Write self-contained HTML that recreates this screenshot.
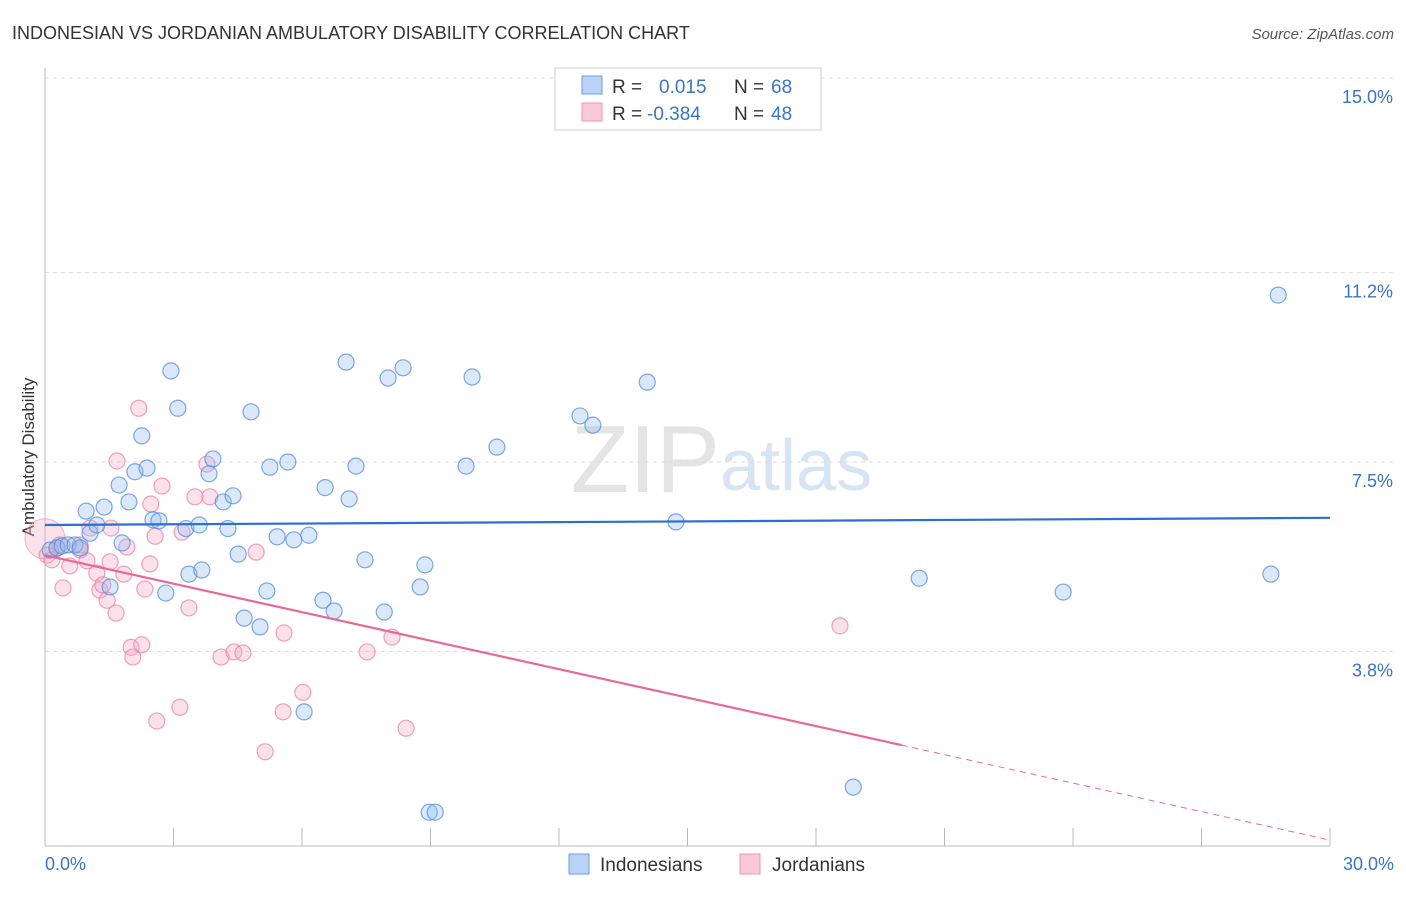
<!DOCTYPE html>
<html><head><meta charset="utf-8"><style>
body{margin:0;background:#fff;font-family:"Liberation Sans",sans-serif;}
svg text{font-family:"Liberation Sans",sans-serif;}
</style></head><body>
<svg id="chart" width="1406" height="892" xmlns="http://www.w3.org/2000/svg">
<text x="12" y="39" font-size="18" fill="#333">INDONESIAN VS JORDANIAN AMBULATORY DISABILITY CORRELATION CHART</text>
<text x="1394" y="39" font-size="15" fill="#555" text-anchor="end" font-style="italic">Source: ZipAtlas.com</text>
<text x="720" y="492" font-size="96" fill="#e4e4e4" text-anchor="end" font-family="Liberation Serif">ZIP</text>
<text x="720" y="490" font-size="72" fill="#d6e4f4">atlas</text>
<g id="grid"></g>
<line x1="45" y1="68" x2="45" y2="846" stroke="#bbb"/>
<line x1="45" y1="846" x2="1330" y2="846" stroke="#bbb"/>
<text transform="translate(34,457) rotate(-90)" font-size="17" fill="#333" text-anchor="middle">Ambulatory Disability</text>
<text x="45" y="870" font-size="18" fill="#3a75c4">0.0%</text>
<text x="1394" y="870" font-size="18" fill="#3a75c4" text-anchor="end">30.0%</text>
<g id="points"></g>
<g id="trends"></g>
<g>
<rect x="555" y="68" width="266" height="62" fill="#fff" stroke="#ccc"/>
<rect x="582" y="76" width="20" height="18" fill="#b8d3f5" stroke="#6d9fe0"/>
<rect x="582" y="103" width="20" height="18" fill="#f9c9d8" stroke="#ef94b3"/>
<text x="612" y="93" font-size="19" fill="#333">R = </text><text x="659" y="93" font-size="19" fill="#3a75c4">0.015</text>
<text x="734" y="93" font-size="19" fill="#333">N = </text><text x="771" y="93" font-size="19" fill="#3a75c4">68</text>
<text x="612" y="120" font-size="19" fill="#333">R = </text><text x="647" y="120" font-size="19" fill="#3a75c4">-0.384</text>
<text x="734" y="120" font-size="19" fill="#333">N = </text><text x="771" y="120" font-size="19" fill="#3a75c4">48</text>
</g>
<g>
<rect x="569" y="854" width="20" height="20" fill="#b8d3f5" stroke="#6d9fe0"/>
<text x="600" y="871" font-size="19" fill="#333">Indonesians</text>
<rect x="740" y="854" width="20" height="20" fill="#f9c9d8" stroke="#ef94b3"/>
<text x="772" y="871" font-size="19" fill="#333">Jordanians</text>
</g>
</svg>
<script>
const yTicks=[3.8,7.5,11.2,15.0];
const xTicks=[3,6,9,12,15,18,21,24,27,30];
const blueX=[0.12,0.28,0.4,0.54,0.7,0.82,0.96,1.05,1.21,1.38,1.52,1.73,1.8,1.96,2.1,2.26,2.38,2.52,2.66,2.82,2.94,3.1,3.29,3.36,3.6,3.66,3.83,3.92,4.16,4.27,4.39,4.51,4.65,4.81,5.02,5.18,5.25,5.42,5.67,5.81,6.05,6.16,6.49,6.54,6.75,7.03,7.1,7.26,7.47,7.92,8.01,8.36,8.76,8.87,8.97,9.11,9.83,9.97,10.55,12.49,12.79,14.06,14.73,18.87,20.41,23.77,28.62,28.79];
const blueY=[5.78,5.82,5.86,5.88,5.88,5.82,6.54,6.11,6.27,6.62,5.06,7.05,5.92,6.72,7.31,8.01,7.38,6.37,6.35,4.94,9.28,8.55,6.2,5.31,6.27,5.39,7.27,7.56,6.72,6.2,6.84,5.7,4.45,8.48,4.28,4.98,7.4,6.04,7.5,5.98,2.62,6.07,4.8,7.0,4.59,9.45,6.78,7.42,5.59,4.57,9.14,9.34,5.06,5.49,0.66,0.66,7.42,9.16,7.79,8.4,8.22,9.06,6.33,1.15,5.23,4.96,5.31,10.76];
const pinkX=[0.05,0.16,0.28,0.42,0.58,0.82,0.98,1.05,1.21,1.28,1.35,1.45,1.54,1.66,1.68,1.84,1.91,2.01,2.05,2.19,2.26,2.33,2.47,2.57,2.61,2.73,3.15,3.2,3.36,3.5,3.78,3.85,4.11,4.41,4.62,4.93,5.14,5.56,5.58,6.02,7.52,8.1,8.43,18.56,1.52,0.82,0.35,2.45];
const pinkY=[5.68,5.59,5.82,5.04,5.47,5.78,5.57,6.21,5.33,5.0,5.1,4.8,6.21,4.55,7.52,5.31,5.84,3.88,3.69,8.55,3.93,5.02,6.68,6.05,2.44,7.03,2.71,6.13,4.65,6.82,7.46,6.82,3.69,3.79,3.77,5.74,1.84,2.62,4.16,3.0,3.79,4.08,2.3,4.3,5.55,5.88,5.88,5.51];
const blueTrend=[6.27,6.41];
const pinkTrend=[5.68,1.97];
const pinkSolidEnd=20.0;
const X0=45,X1=1330,Y0=846,Y1=78;
const sx=v=>X0+(X1-X0)*v/30;
const sy=v=>Y0-(Y0-Y1)*v/15;
const NS="http://www.w3.org/2000/svg";
function mk(t,a,p){const e=document.createElementNS(NS,t);for(const k in a)e.setAttribute(k,a[k]);p.appendChild(e);return e;}
const grid=document.getElementById('grid');
yTicks.forEach(t=>{
 const l=mk('line',{x1:45,x2:1394,y1:sy(t),y2:sy(t),stroke:'#ddd','stroke-dasharray':'4,4'},grid);
 
 
 const tx=mk('text',{x:1393,y:sy(t)+25,'font-size':18,fill:'#3a75c4','text-anchor':'end'},grid);
 tx.textContent=t.toFixed(1)+'%';
 
 
});
xTicks.forEach(t=>{
 const l=mk('line',{x1:sx(t),x2:sx(t),y1:828,y2:846,stroke:'#bbb'},grid);
 
 
});
const pts=document.getElementById('points');
const big1=mk('circle',{cx:sx(0),cy:sy(6.0),r:20,fill:'rgba(244,170,196,0.35)',stroke:'rgba(236,130,168,0.6)'},pts);


pinkX.forEach((x,i)=>{
 const c=mk('circle',{cx:sx(x),cy:sy(pinkY[i]),r:8,fill:'rgba(244,170,196,0.35)',stroke:'rgba(236,130,168,0.75)','stroke-width':1.2},pts);
 
 
});
blueX.forEach((x,i)=>{
 const c=mk('circle',{cx:sx(x),cy:sy(blueY[i]),r:8,fill:'rgba(150,190,240,0.35)',stroke:'rgba(80,140,220,0.75)','stroke-width':1.2},pts);
 
 
});
const tr=document.getElementById('trends');
const bt=mk('line',{x1:sx(0),y1:sy(blueTrend[0]),x2:sx(30),y2:sy(blueTrend[1]),stroke:'#2b6fd1','stroke-width':2.2},tr);


const pAt=x=>pinkTrend[0]+(pinkTrend[1]-pinkTrend[0])*x/pinkSolidEnd;
const pt=mk('line',{x1:sx(0),y1:sy(pinkTrend[0]),x2:sx(pinkSolidEnd),y2:sy(pinkTrend[1]),stroke:'#e8689a','stroke-width':2.2},tr);


const pd=mk('line',{x1:sx(pinkSolidEnd),y1:sy(pinkTrend[1]),x2:sx(30),y2:sy(pAt(30)),stroke:'#e8689a','stroke-width':1,'stroke-dasharray':'6,5'},tr);


</script>
</body></html>
